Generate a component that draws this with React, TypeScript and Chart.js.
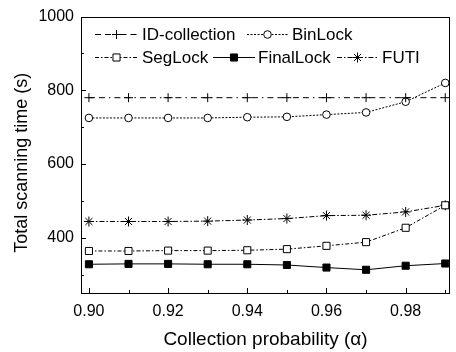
import React, { useEffect, useRef } from 'react';
import { Chart, registerables } from 'chart.js';

Chart.register(...registerables);

// ---- data ----
const alphas = [0.9, 0.91, 0.92, 0.93, 0.94, 0.95, 0.96, 0.97, 0.98, 0.99];
const xTickLabels = ['0.90', '', '0.92', '', '0.94', '', '0.96', '', '0.98', ''];
const yTickValues = [300, 400, 500, 600, 700, 800, 900, 1000];
const yTickLabels = ['', '400', '', '600', '', '800', '', '1000'];

const idCollection = [780, 780, 780, 780, 780, 780, 780, 780, 780, 780];
const binLock = [725, 725, 725, 725, 727, 728, 734, 740, 769, 820];
const segLock = [364, 364, 365, 365, 366, 369, 378, 388, 427, 488];
const finalLock = [328, 329, 329, 328, 328, 326, 319, 313, 324, 330];
const futi = [444, 444, 444, 445, 448, 452, 460, 461, 470, 488];

const seriesNames = ['ID-collection', 'BinLock', 'SegLock', 'FinalLock', 'FUTI'];
const xTitle = 'Collection probability (α)';
const yTitle = 'Total scanning time (s)';

const FONT = 'Arial, "Liberation Sans", Helvetica, sans-serif';

const toPts = (arr: number[]) => alphas.map((a, i) => ({ x: a, y: arr[i] }));

// legend layout: row, sample start, sample end, text x (offsets from chart area left)
const legendLayout = [
  { row: 0, s0: 14, s1: 57, tx: 61 },
  { row: 0, s0: 166, s1: 207, tx: 211 },
  { row: 1, s0: 14, s1: 57, tx: 61 },
  { row: 1, s0: 132, s1: 174, tx: 177 },
  { row: 1, s0: 256, s1: 297, tx: 301 },
];
const legendRowY = [17, 40];

function drawMarker(ctx: CanvasRenderingContext2D, style: string, r: number, x: number, y: number) {
  ctx.beginPath();
  if (style === 'circle') {
    ctx.arc(x, y, r, 0, Math.PI * 2);
    ctx.fill();
    ctx.stroke();
  } else if (style === 'rect') {
    const s = Math.SQRT1_2 * r;
    ctx.rect(x - s, y - s, 2 * s, 2 * s);
    ctx.fill();
    ctx.stroke();
  } else if (style === 'cross') {
    ctx.moveTo(x, y - r);
    ctx.lineTo(x, y + r);
    ctx.moveTo(x - r, y);
    ctx.lineTo(x + r, y);
    ctx.stroke();
  } else if (style === 'star') {
    ctx.moveTo(x, y - r);
    ctx.lineTo(x, y + r);
    ctx.moveTo(x - r, y);
    ctx.lineTo(x + r, y);
    const d = r * Math.SQRT1_2;
    ctx.moveTo(x - d, y - d);
    ctx.lineTo(x + d, y + d);
    ctx.moveTo(x - d, y + d);
    ctx.lineTo(x + d, y - d);
    ctx.stroke();
  }
}

const framePlugin = {
  id: 'frameTicks',
  afterDraw(chart: any) {
    const { ctx, chartArea } = chart;
    const { left, right, top, bottom } = chartArea;
    const xs = chart.scales.x;
    const ys = chart.scales.y;
    ctx.save();
    ctx.strokeStyle = '#000';
    ctx.lineWidth = 1;
    ctx.setLineDash([]);
    ctx.strokeRect(Math.round(left) + 0.5, Math.round(top) + 0.5, Math.round(right - left) - 1, Math.round(bottom - top));
    ctx.beginPath();
    alphas.forEach((a, i) => {
      const px = Math.round(xs.getPixelForValue(a)) + 0.5;
      const len = i % 2 === 0 ? 5 : 3;
      ctx.moveTo(px, bottom);
      ctx.lineTo(px, bottom - len);
    });
    yTickValues.forEach((v, i) => {
      const py = Math.round(ys.getPixelForValue(v)) + 0.5;
      const len = yTickLabels[i] ? 5 : 3;
      ctx.moveTo(left, py);
      ctx.lineTo(left + len, py);
    });
    ctx.stroke();

    // axis titles
    ctx.fillStyle = '#000';
    ctx.textAlign = 'center';
    ctx.textBaseline = 'middle';
    ctx.font = `19px ${FONT}`;
    ctx.fillText(xTitle, (left + right) / 2, chart.height - 12);
    ctx.save();
    ctx.translate(22, (top + bottom) / 2 + 8);
    ctx.rotate(-Math.PI / 2);
    ctx.font = `18px ${FONT}`;
    ctx.fillText(yTitle, 0, 0);
    ctx.restore();

    // legend
    ctx.font = `17px ${FONT}`;
    ctx.textBaseline = 'middle';
    ctx.textAlign = 'left';
    ctx.fillStyle = '#000';
    chart.data.datasets.forEach((ds: any, i: number) => {
      const L = legendLayout[i];
      const y = Math.round(top + legendRowY[L.row]) + 0.5;
      const x0 = left + L.s0;
      const x1 = left + L.s1;
      ctx.save();
      ctx.setLineDash(ds.borderDash || []);
      ctx.lineWidth = ds.borderWidth;
      ctx.strokeStyle = '#000';
      ctx.beginPath();
      ctx.moveTo(x0, y);
      ctx.lineTo(x1, y);
      ctx.stroke();
      ctx.restore();
      ctx.save();
      ctx.setLineDash([]);
      ctx.lineWidth = ds.pointBorderWidth;
      ctx.strokeStyle = '#000';
      ctx.fillStyle = ds.pointBackgroundColor;
      drawMarker(ctx, ds.pointStyle, ds.pointRadius, (x0 + x1) / 2, y);
      ctx.restore();
      ctx.fillText(seriesNames[i], left + L.tx, y + 1);
    });
    ctx.restore();
  },
};

export default function App() {
  const ref = useRef<HTMLCanvasElement | null>(null);
  useEffect(() => {
    if (!ref.current) return;
    const common = {
      borderColor: '#000',
      borderWidth: 1,
      pointBorderColor: '#000',
      pointBorderWidth: 1,
      fill: false,
      tension: 0,
    };
    const chart = new Chart(ref.current, {
      type: 'line',
      data: {
        datasets: [
          { ...common, label: seriesNames[0], data: toPts(idCollection), borderDash: [6, 4, 6, 4, 1.5, 4], pointStyle: 'cross', pointRadius: 4.5, pointBackgroundColor: '#fff' },
          { ...common, label: seriesNames[1], data: toPts(binLock), borderDash: [2, 1.5], pointStyle: 'circle', pointRadius: 3.8, pointBackgroundColor: '#fff' },
          { ...common, label: seriesNames[2], data: toPts(segLock), borderDash: [4, 2, 1.5, 2], pointStyle: 'rect', pointRadius: 5, pointBackgroundColor: '#fff' },
          { ...common, label: seriesNames[3], data: toPts(finalLock), borderDash: [], pointStyle: 'rect', pointRadius: 5, pointBackgroundColor: '#000' },
          { ...common, label: seriesNames[4], data: toPts(futi), borderDash: [5, 2, 1.5, 2], pointStyle: 'star', pointRadius: 5, pointBackgroundColor: '#fff' },
        ] as any,
      },
      options: {
        responsive: false,
        animation: false,
        layout: { padding: { top: 15, right: 1, left: 0, bottom: 0 } },
        plugins: { legend: { display: false }, tooltip: { enabled: false } },
        scales: {
          x: {
            type: 'linear',
            min: 0.898,
            max: 0.9912,
            grid: { display: false, drawTicks: false },
            border: { display: false },
            afterBuildTicks: (scale: any) => {
              scale.ticks = alphas.map((v) => ({ value: v }));
            },
            afterFit: (scale: any) => {
              scale.height = 59;
            },
            ticks: {
              autoSkip: false,
              maxRotation: 0,
              padding: 9,
              color: '#000',
              font: { size: 16, family: FONT },
              callback: (_v: any, i: number) => xTickLabels[i],
            },
            title: { display: false },
          },
          y: {
            type: 'linear',
            min: 250,
            max: 1000,
            grid: { display: false, drawTicks: false },
            border: { display: false },
            afterBuildTicks: (scale: any) => {
              scale.ticks = yTickValues.map((v) => ({ value: v }));
            },
            afterFit: (scale: any) => {
              scale.width = 81;
            },
            ticks: {
              autoSkip: false,
              padding: 7,
              color: '#000',
              font: { size: 16, family: FONT },
              callback: (_v: any, i: number) => yTickLabels[i],
            },
            title: { display: false },
          },
        },
      },
      plugins: [framePlugin],
    });
    return () => chart.destroy();
  }, []);
  return (
    <div style={{ position: 'absolute', left: 0, top: 0, width: 456, height: 352, background: '#fff' }}>
      <canvas ref={ref} width={456} height={352} />
    </div>
  );
}
